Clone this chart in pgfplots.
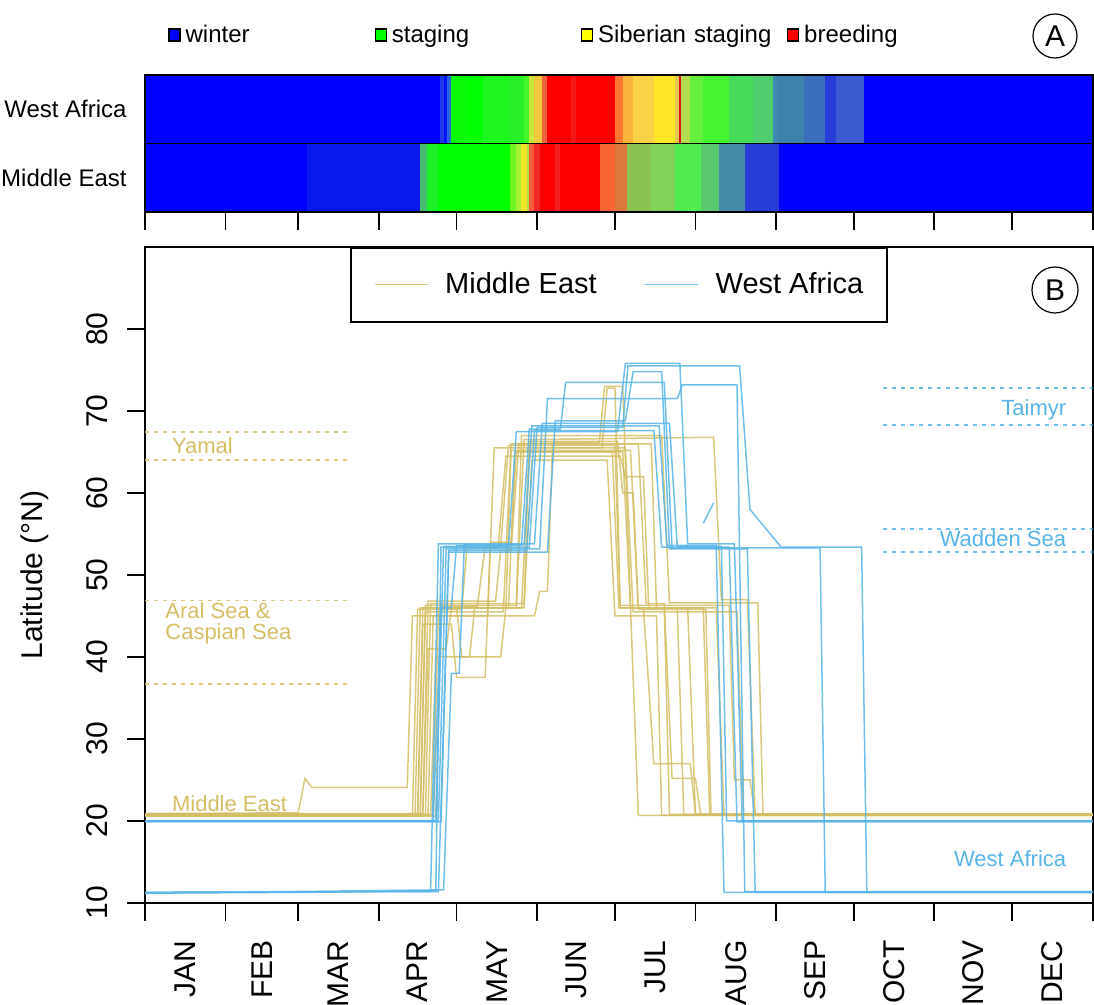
\documentclass[border=0pt]{standalone}
\usepackage{fontspec}
\setmainfont{Liberation Sans}
\usepackage{pgfplots}
\pgfplotsset{compat=1.18}
\definecolor{meC}{RGB}{212,190,100}
\definecolor{waC}{RGB}{86,180,232}
\definecolor{cWinter}{RGB}{0,0,255}
\definecolor{cStaging}{RGB}{0,255,0}
\definecolor{cSib}{RGB}{255,255,0}
\definecolor{cBreed}{RGB}{255,0,0}
% heat strip segments: start day, r, g, b (each fills to year end; later ones overwrite)
\newcommand{\wa}[4]{\addplot[draw=none, fill={rgb,255:red,#2;green,#3;blue,#4}, forget plot] coordinates {(#1,1) (365,1) (365,2) (#1,2)};}
\newcommand{\me}[4]{\addplot[draw=none, fill={rgb,255:red,#2;green,#3;blue,#4}, forget plot] coordinates {(#1,0) (365,0) (365,1) (#1,1)};}
\begin{document}
\begin{tikzpicture}
\useasboundingbox (0,0) rectangle (547pt,502.5pt);
% ---------------- Panel A ----------------
\begin{axis}[
  at={(72.5pt,396.5pt)}, anchor=south west, scale only axis,
  width=473.85pt, height=68.5pt,
  xmin=0, xmax=365, ymin=0, ymax=2,
  axis on top,
  axis line style={line width=0.9pt},
  xtick={0,31,59,90,120,151,181,212,243,273,304,334,365},
  xticklabels={},
  tick align=outside, major tick length=9pt,
  xtick style={line width=0.9pt, black},
  tick pos=left,
  ytick={0.5,1.5}, yticklabels={Middle East,West Africa},
  ytick style={draw=none},
  yticklabel style={font=\fontsize{12}{14}\selectfont, inner sep=0pt, anchor=east},
  legend columns=4,
  legend style={at={(0.0243,1.292)}, anchor=west, draw=none, fill=none, inner sep=0pt,
    font=\fontsize{12}{14}\selectfont,
    /tikz/every odd column/.append style={column sep=2.5pt},
    nodes={inner sep=0pt, text width=94.5pt, align=left}},
  legend image code/.code={\draw[#1] (0pt,-3pt) rectangle (5.5pt,3pt);},
]
\addlegendimage{fill=cWinter, draw=black, line width=0.6pt}\addlegendentry{winter}
\addlegendimage{fill=cStaging, draw=black, line width=0.6pt}\addlegendentry{staging}
\addlegendimage{fill=cSib, draw=black, line width=0.6pt}\addlegendentry{Siberian staging}
\addlegendimage{fill=cBreed, draw=black, line width=0.6pt}\addlegendentry{breeding}
% West Africa row
\wa{0}{0}{0}{255}
\wa{113.5}{30}{60}{230}
\wa{115}{0}{20}{255}
\wa{116.5}{40}{100}{220}
\wa{118}{10}{250}{10}
\wa{124}{0}{255}{0}
\wa{130}{30}{248}{30}
\wa{140}{40}{240}{40}
\wa{146}{70}{245}{40}
\wa{148}{200}{230}{60}
\wa{150}{240}{200}{60}
\wa{153}{240}{100}{60}
\wa{155}{255}{0}{0}
\wa{164}{245}{25}{25}
\wa{166}{255}{0}{0}
\wa{181}{250}{120}{50}
\wa{184}{250}{180}{60}
\wa{188}{250}{210}{70}
\wa{196}{255}{230}{40}
\wa{204}{230}{200}{80}
\wa{205.5}{220}{20}{20}
\wa{206.5}{180}{220}{80}
\wa{210}{100}{240}{60}
\wa{215}{70}{245}{50}
\wa{225}{70}{220}{90}
\wa{234}{80}{205}{110}
\wa{242}{60}{140}{180}
\wa{243.5}{60}{130}{170}
\wa{254}{60}{110}{190}
\wa{262}{40}{60}{220}
\wa{266}{60}{90}{210}
\wa{277}{0}{0}{255}
% Middle East row
\me{0}{0}{0}{255}
\me{62.3}{10}{25}{235}
\me{106}{70}{190}{110}
\me{108.5}{30}{240}{40}
\me{113}{0}{255}{0}
\me{140.5}{110}{245}{30}
\me{143}{170}{240}{50}
\me{145}{240}{230}{40}
\me{147}{180}{220}{60}
\me{148}{250}{90}{60}
\me{150}{245}{40}{40}
\me{152}{255}{0}{0}
\me{158}{245}{30}{30}
\me{160}{255}{0}{0}
\me{175.3}{250}{100}{50}
\me{181}{220}{120}{60}
\me{185.7}{140}{195}{80}
\me{194.5}{130}{210}{90}
\me{204}{80}{235}{80}
\me{214}{90}{200}{110}
\me{221}{70}{140}{170}
\me{231}{40}{60}{215}
\me{244}{0}{0}{255}
\addplot[black, line width=0.9pt, forget plot] coordinates {(0,1) (365,1)};
\end{axis}
% ---------------- Panel B ----------------
\begin{axis}[
  at={(72.5pt,51pt)}, anchor=south west, scale only axis,
  width=473.85pt, height=328pt,
  xmin=0, xmax=365, ymin=10, ymax=90,
  axis line style={line width=0.9pt},
  tick style={line width=0.9pt, black},
  tick align=outside, major tick length=9pt,
  tick pos=left,
  xtick={0,31,59,90,120,151,181,212,243,273,304,334,365},
  xticklabels={},
  extra x ticks={15.5,45,74.5,105,135.5,166,196.5,227.5,258,288.5,319,349.5},
  extra x tick labels={JAN,FEB,MAR,APR,MAY,JUN,JUL,AUG,SEP,OCT,NOV,DEC},
  extra x tick style={major tick length=0pt,
    xticklabel style={yshift=-18.5pt, rotate=90, anchor=east, inner sep=0pt,
    font=\fontsize{15}{17}\selectfont}},
  ytick={10,20,30,40,50,60,70,80},
  yticklabel style={xshift=-9.5pt, rotate=90, anchor=south, inner sep=0pt, font=\fontsize{15}{17}\selectfont},
  /pgf/number format/assume math mode=true,
  ylabel={Latitude (°N)},
  ylabel style={at={(axis description cs:-0.116,0.5)}, anchor=center, rotate=0,
    font=\fontsize{15}{17}\selectfont},
  legend columns=2,
  legend style={at={(0.5,1)}, anchor=north, draw=black, line width=0.75pt,
    inner xsep=11.75pt, inner ysep=12.5pt,
    font=\fontsize{14.5}{16}\selectfont,
    nodes={inner sep=0pt},
    /tikz/every odd column/.append style={column sep=8.25pt},
    /tikz/every even column/.append style={column sep=24pt}},
  legend image code/.code={\draw[#1, line width=0.7pt] (0pt,0pt) -- (26.5pt,0pt);},
  every axis plot/.append style={line width=0.75pt, opacity=0.85},
]
% reference latitude bands
\addplot[meC, dash pattern=on 2pt off 2.5pt, line width=0.9pt, forget plot] coordinates {(0,67.4) (79.5,67.4)};
\addplot[meC, dash pattern=on 2pt off 2.5pt, line width=0.9pt, forget plot] coordinates {(0,64.0) (79.5,64.0)};
\addplot[meC, dash pattern=on 2pt off 2.5pt, line width=0.9pt, forget plot] coordinates {(0,46.9) (79.5,46.9)};
\addplot[meC, dash pattern=on 2pt off 2.5pt, line width=0.9pt, forget plot] coordinates {(0,36.7) (79.5,36.7)};
\addplot[waC, dash pattern=on 2pt off 2.5pt, line width=0.9pt, forget plot] coordinates {(284.3,72.8) (365,72.8)};
\addplot[waC, dash pattern=on 2pt off 2.5pt, line width=0.9pt, forget plot] coordinates {(284.3,68.3) (365,68.3)};
\addplot[waC, dash pattern=on 2pt off 2.5pt, line width=0.9pt, forget plot] coordinates {(284.3,55.6) (365,55.6)};
\addplot[waC, dash pattern=on 2pt off 2.5pt, line width=0.9pt, forget plot] coordinates {(284.3,52.8) (365,52.8)};
% Middle East birds
\addplot[meC] coordinates {(0,20.8)(104,20.8)(106,46)(140,46)(142.5,65)(180,65)(182.5,46)(215,46)(217.5,20.8)(365,20.8)};
\addlegendentry{Middle East}
\addplot[meC, forget plot] coordinates {(0,20.6)(106,20.6)(108,45.5)(138,45.5)(141,66)(175,66.2)(177,73)(184,73)(187,46)(205,46)(207.5,20.8)(365,20.8)};
\addplot[meC, forget plot] coordinates {(0,20.9)(59,21)(61.6,25.2)(64.3,24.1)(101,24.1)(103,45)(132,45)(134.5,65.5)(185,65.5)(188,45.5)(228,45.5)(230.5,20.8)(365,20.8)};
\addplot[meC, forget plot] coordinates {(0,20.8)(110,20.8)(112,40)(125,40)(127,46)(143,46)(146,66.5)(219,66.8)(222,47)(232,47)(235,20.8)(365,20.8)};
\addplot[meC, forget plot] coordinates {(0,20.7)(108,20.7)(110,46.5)(146,46.5)(149,64)(178,64)(181,45)(197,45)(199,20.7)(365,20.7)};
\addplot[meC, forget plot] coordinates {(0,20.8)(105,20.8)(107,44)(118,44)(120,37.5)(131,37.5)(133,54)(141,54)(143,65)(184,65)(187,46)(192,46)(196,27)(210,27)(212,20.8)(365,20.8)};
\addplot[meC, forget plot] coordinates {(0,20.9)(107,20.9)(109,46.8)(135,46.8)(137,53)(141,53)(144,66)(190,66)(193,46.5)(200,46.5)(203,25.2)(212,25.2)(214,20.8)(365,20.8)};
\addplot[meC, forget plot] coordinates {(0,20.7)(111,20.7)(113,46)(145,46)(148,65.5)(176,65.5)(178,72.8)(181,72.8)(183,46.3)(225,46.3)(227,25)(233,25)(235,20.7)(365,20.7)};
\addplot[meC, forget plot] coordinates {(0,20.8)(103,20.8)(105,45.8)(122,45.8)(124,53.3)(136,53.3)(139,64.5)(183,64.5)(185,62)(192,62)(194,46)(220,46)(223,20.8)(365,20.8)};
\addplot[meC, forget plot] coordinates {(0,20.8)(109,20.8)(111,45)(150,45)(152,48)(155,48)(157,66)(195,66)(197,46)(209,46)(212,20.8)(365,20.8)};
\addplot[meC, forget plot] coordinates {(0,20.6)(112,20.6)(114,46.2)(128,46.2)(131,53.5)(137,53.5)(140,65.8)(181,65.8)(183,46)(187,46)(190,20.7)(365,20.7)};
\addplot[meC, forget plot] coordinates {(0,20.8)(106,20.8)(108,46.3)(143,46.3)(145,67)(199,67)(202,46.6)(236,46.6)(238,20.8)(365,20.8)};
\addplot[meC, forget plot] coordinates {(0,20.8)(107,20.8)(109,41)(116,41)(118,46)(139,46)(141,65.2)(187,65.2)(190,45.8)(216,45.8)(218,20.8)(365,20.8)};
\addplot[meC, forget plot] coordinates {(0,20.7)(105,20.7)(107,46)(120,46)(122,40)(137,40)(139,46)(146,46)(148,66.3)(182,66.3)(184,60)(188,60)(190,46)(200,46)(202,20.8)(365,20.8)};
% West Africa birds
\addplot[waC] coordinates {(0,11.2)(60,11.3)(112,11.5)(114,53.4)(148,53.4)(151,68)(184,68)(186,75.5)(229,75.5)(233,58)(245,53.4)(276,53.4)(278,11.3)(365,11.3)};
\addlegendentry{West Africa}
\addplot[waC, forget plot] coordinates {(0,11.3)(110,11.4)(113,53.8)(150,53.8)(153,68.5)(202,68.5)(205,53.5)(222,53.5)(224,20)(365,20)};
\addplot[waC, forget plot] coordinates {(0,20)(111,20)(114,46)(118,46)(120,53.6)(145,53.6)(148,67.8)(160,67.8)(162,73.5)(200,73.5)(203,53.3)(260,53.3)(262,11.3)(365,11.3)};
\addplot[waC, forget plot] coordinates {(0,20)(113,20)(116,53.2)(152,53.2)(155,71.5)(205,71.5)(207,73.2)(228,73.2)(231,11.4)(365,11.4)};
\addplot[waC, forget plot] coordinates {(0,11.2)(115,11.6)(118,38)(121,38)(123,53.7)(146,53.7)(149,68.2)(198,68.2)(201,53.6)(220,53.6)(223,11.3)(365,11.3)};
\addplot[waC, forget plot] coordinates {(0,20)(112,20)(115,53.5)(140,53.5)(143,67.5)(182,67.5)(185,75.8)(206,75.8)(209,53.8)(227,53.8)(230,20)(365,20)};
\addplot[waC, forget plot] coordinates {(0,11.3)(113,11.4)(117,52.8)(155,52.8)(158,68.8)(185,68.8)(188,74.8)(199,74.8)(202,53.2)(232,53.2)(235,11.3)(365,11.3)};
\addplot[waC, forget plot] coordinates {(0,19.9)(114,19.9)(117,53)(147,53)(150,67.6)(196,67.6)(199,53.4)(225,53.4)(228,19.9)(365,19.9)};
\addplot[waC, forget plot] coordinates {(215,56.3)(219,58.8)};
% annotations
\node[meC, anchor=base west, font=\fontsize{11}{12}\selectfont] at (axis cs:7.7,64.8) {Yamal};
\node[meC, anchor=base west, font=\fontsize{11}{10.5}\selectfont, align=left, inner sep=0pt] at (axis cs:7.7,42.1) {Aral Sea \&\\Caspian Sea};
\node[meC, anchor=base west, font=\fontsize{11}{12}\selectfont] at (axis cs:7.7,21.2) {Middle East};
\node[waC, anchor=base east, font=\fontsize{11}{12}\selectfont] at (axis cs:357.5,69.5) {Taimyr};
\node[waC, anchor=base east, font=\fontsize{11}{12}\selectfont] at (axis cs:357.5,53.5) {Wadden Sea};
\node[waC, anchor=base east, font=\fontsize{11}{12}\selectfont] at (axis cs:357.5,14.4) {West Africa};
\end{axis}
\node[circle, draw=black, line width=0.6pt, minimum size=22pt, inner sep=0pt, font=\fontsize{15}{17}\selectfont] at (527.5pt,484.5pt) {A};
\node[circle, draw=black, line width=0.6pt, minimum size=23pt, inner sep=0pt, font=\fontsize{15}{17}\selectfont] at (527.5pt,357.5pt) {B};
\end{tikzpicture}
\end{document}
